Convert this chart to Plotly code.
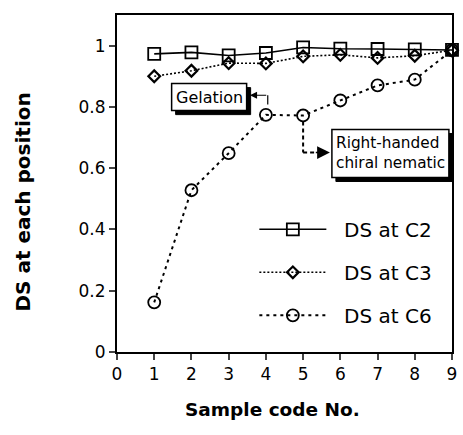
import plotly.graph_objects as go

sample_code = [1, 2, 3, 4, 5, 6, 7, 8, 9]
ds_c2 = [0.973, 0.978, 0.968, 0.976, 0.994, 0.990, 0.989, 0.988, 0.986]
ds_c3 = [0.900, 0.918, 0.943, 0.942, 0.965, 0.970, 0.960, 0.967, 0.985]
ds_c6 = [0.162, 0.528, 0.649, 0.774, 0.772, 0.821, 0.870, 0.889, 0.985]

x_ticks = [0, 1, 2, 3, 4, 5, 6, 7, 8, 9]
y_ticks = [0, 0.2, 0.4, 0.6, 0.8, 1.0]
y_tick_text = ["0", "0.2", "0.4", "0.6", "0.8", "1"]

FONT = "DejaVu Sans"
PAD = "\u00a0\u00a0"

fig = go.Figure()

fig.add_trace(go.Scatter(
    x=sample_code, y=ds_c2, name=PAD + "DS at C2", mode="lines+markers",
    line=dict(color="black", width=1.6, dash="solid"),
    marker=dict(symbol="square-open", size=12, color="black", line=dict(width=1.8)),
    cliponaxis=False, legendgroup="a"))
fig.add_trace(go.Scatter(
    x=sample_code, y=ds_c3, name=PAD + "DS at C3", mode="lines+markers",
    line=dict(color="black", width=1.6, dash="2px,2px"),
    marker=dict(symbol="diamond-open", size=9, color="black", line=dict(width=2.2)),
    cliponaxis=False, legendgroup="b"))
fig.add_trace(go.Scatter(
    x=sample_code, y=ds_c6, name=PAD + "DS at C6", mode="lines+markers",
    line=dict(color="black", width=2, dash="3px,4px"),
    marker=dict(symbol="circle-open", size=12, color="black", line=dict(width=1.8)),
    cliponaxis=False, legendgroup="c"))

# Callout boxes with drop shadows (pixel-sized shapes anchored in data space)
def box(text, x, y, hw, hh, size):
    sh = 4
    fig.add_shape(type="rect", xref="x", yref="y", xsizemode="pixel", ysizemode="pixel",
                  xanchor=x, yanchor=y, x0=-hw + sh, x1=hw + sh, y0=-hh - sh, y1=hh - sh,
                  fillcolor="black", line=dict(color="black", width=1))
    fig.add_shape(type="rect", xref="x", yref="y", xsizemode="pixel", ysizemode="pixel",
                  xanchor=x, yanchor=y, x0=-hw, x1=hw, y0=-hh, y1=hh,
                  fillcolor="white", line=dict(color="black", width=1.5))
    fig.add_annotation(x=x, y=y, xref="x", yref="y", text=text, showarrow=False,
                       align="left", font=dict(family=FONT, size=size, color="black"))

box("Gelation", 2.475, 0.832, 37.5, 13.5, 16)
box("Right-handed<br>chiral nematic", 7.345, 0.648, 58.5, 24, 15.3)

# Gelation elbow arrow
fig.add_shape(type="line", x0=4.05, y0=0.808, x1=4.05, y1=0.838, xref="x", yref="y",
              line=dict(color="black", width=1.2))
fig.add_annotation(x=3.57, y=0.838, ax=4.05, ay=0.838, xref="x", yref="y", axref="x", ayref="y",
                   text="", showarrow=True, arrowhead=2, arrowsize=1.2, arrowwidth=1.2,
                   arrowcolor="black", standoff=0)

# Chiral nematic dashed elbow arrow
fig.add_shape(type="line", x0=5.0, y0=0.752, x1=5.0, y1=0.651, xref="x", yref="y",
              line=dict(color="black", width=2, dash="4px,3px"))
fig.add_shape(type="line", x0=5.0, y0=0.651, x1=5.35, y1=0.651, xref="x", yref="y",
              line=dict(color="black", width=2, dash="4px,3px"))
fig.add_annotation(x=5.72, y=0.651, ax=5.3, ay=0.651, xref="x", yref="y", axref="x", ayref="y",
                   text="", showarrow=True, arrowhead=2, arrowsize=1.6, arrowwidth=1.6,
                   arrowcolor="black", standoff=0)

# Axis titles
fig.add_annotation(x=0.465, y=-0.172, xref="paper", yref="paper", text="<b>Sample code No.</b>",
                   showarrow=False, xanchor="center", yanchor="middle",
                   font=dict(family=FONT, size=18.5, color="black"))
fig.add_annotation(x=-0.279, y=0.445, xref="paper", yref="paper", text="<b>DS at each position</b>",
                   showarrow=False, textangle=-90, xanchor="center", yanchor="middle",
                   font=dict(family=FONT, size=20, color="black"))

fig.update_xaxes(range=[0, 9], tickvals=x_ticks, ticks="outside", ticklen=6, tickwidth=1.5,
                 showline=True, linewidth=2, linecolor="black", mirror=True,
                 showgrid=False, zeroline=False, ticklabeloverflow="allow",
                 tickfont=dict(family=FONT, size=17, color="black"))
fig.update_yaxes(range=[0, 1.1], tickvals=y_ticks, ticktext=y_tick_text, ticks="outside",
                 ticklen=6, tickwidth=1.5,
                 showline=True, linewidth=2, linecolor="black", mirror=True,
                 showgrid=False, zeroline=False,
                 tickfont=dict(family=FONT, size=17, color="black"))

fig.update_layout(
    width=463, height=435,
    margin=dict(l=117, r=6, t=15, b=83),
    plot_bgcolor="white", paper_bgcolor="white",
    legend=dict(x=0.41, y=0.422, xanchor="left", yanchor="top",
                font=dict(family=FONT, size=20, color="black"),
                tracegroupgap=14, itemwidth=67, bgcolor="rgba(0,0,0,0)"),
    showlegend=True,
)

fig.write_html("out.html", config={"displayModeBar": False},
               post_script="document.body.style.margin='0';")
